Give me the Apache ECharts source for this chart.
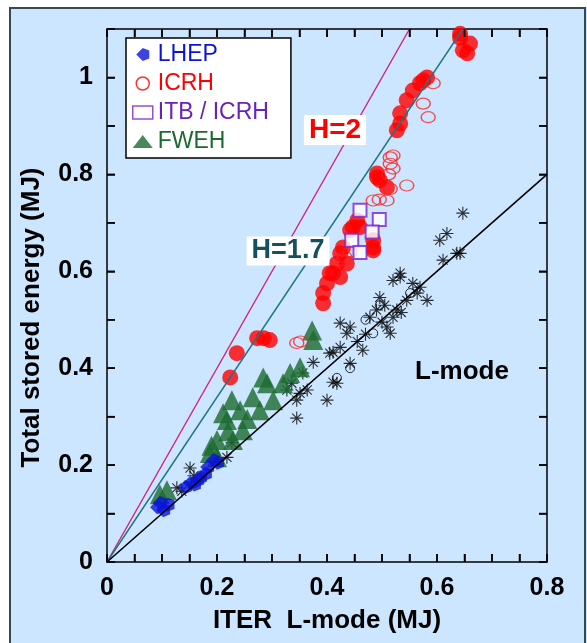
<!DOCTYPE html>
<html>
<head>
<meta charset="utf-8">
<script src="https://cdn.jsdelivr.net/npm/echarts@6/dist/echarts.min.js"></script>
<style>
  html, body { margin: 0; padding: 0; background: #fff; }
  #main { width: 587px; height: 643px; }
</style>
</head>
<body>
<div id="main"></div>
<script>
// values: [ITER L-mode (MJ), total stored energy (MJ)]
var lhep = [[0.091,0.113],[0.096,0.122],[0.102,0.107],[0.110,0.118],[0.142,0.155],[0.151,0.163],
  [0.158,0.160],[0.164,0.169],[0.169,0.175],[0.178,0.182],[0.182,0.196],[0.193,0.210],[0.200,0.205]];

var icrhFilled = [[0.236,0.431],[0.224,0.381],[0.273,0.462],[0.285,0.462],[0.296,0.458],[0.393,0.534],
  [0.400,0.575],[0.393,0.555],[0.405,0.596],[0.424,0.588],[0.411,0.596],[0.418,0.616],[0.424,0.637],
  [0.429,0.649],[0.436,0.616],[0.442,0.685],[0.455,0.705],[0.447,0.691],[0.460,0.691],[0.484,0.664],
  [0.484,0.643],[0.484,0.649],[0.491,0.794],[0.496,0.788],[0.491,0.802],[0.509,0.773],[0.527,0.891],
  [0.533,0.905],[0.533,0.926],[0.545,0.953],[0.556,0.973],[0.569,0.988],[0.582,1.000],[0.575,0.994],
  [0.642,1.090],[0.647,1.056],[0.655,1.050],[0.660,1.070],[0.642,1.082]];

var icrhOpen = [[0.345,0.452],[0.352,0.455],[0.429,0.623],[0.432,0.630],[0.442,0.640],[0.484,0.746],
  [0.495,0.748],[0.509,0.746],[0.515,0.770],[0.515,0.822],[0.520,0.839],[0.512,0.800],[0.545,0.777],
  [0.515,0.835],[0.520,0.812],[0.584,0.918],[0.575,0.946],[0.593,0.988]];

var itbIcrh = [[0.460,0.726],[0.495,0.707],[0.482,0.681],[0.445,0.664],[0.460,0.639]];

var fweh = [[0.109,0.148],[0.096,0.140],[0.187,0.225],[0.200,0.216],[0.200,0.252],[0.229,0.252],
  [0.218,0.293],[0.211,0.307],[0.227,0.334],[0.242,0.313],[0.247,0.272],[0.220,0.270],[0.265,0.340],
  [0.278,0.313],[0.291,0.369],[0.284,0.381],[0.302,0.334],[0.320,0.369],[0.333,0.390],[0.351,0.402],
  [0.373,0.478],[0.375,0.458],[0.255,0.295],[0.190,0.240]];

var lmodeCross = [[0.127,0.153],[0.136,0.146],[0.151,0.194],[0.158,0.178],[0.218,0.216],[0.227,0.246],
  [0.327,0.355],[0.351,0.348],[0.345,0.334],[0.364,0.355],[0.336,0.369],[0.345,0.297],[0.375,0.412],
  [0.411,0.371],[0.400,0.334],[0.356,0.390],[0.424,0.493],[0.436,0.472],[0.411,0.433],[0.424,0.443],
  [0.405,0.431],[0.442,0.410],[0.418,0.369],[0.442,0.485],[0.465,0.437],[0.478,0.505],[0.496,0.546],
  [0.515,0.472],[0.527,0.520],[0.509,0.485],[0.500,0.495],[0.520,0.505],[0.533,0.588],[0.556,0.575],
  [0.564,0.555],[0.582,0.540],[0.569,0.567],[0.520,0.581],[0.533,0.596],[0.611,0.623],[0.642,0.637],
  [0.605,0.664],[0.618,0.678],[0.647,0.720],[0.636,0.637],[0.490,0.520],[0.505,0.530],[0.455,0.455],
  [0.470,0.470],[0.535,0.515],[0.545,0.540]];

var lmodeCircle = [[0.418,0.380],[0.442,0.400],[0.496,0.530],[0.484,0.472],[0.551,0.555],[0.470,0.500]];

// scaling lines W = H * W_L
var lineH2 = [[0, 0], [0.55, 1.1]];
var lineH17 = [[0, 0], [0.647, 1.1]];
var lineL = [[0, 0], [0.8, 0.8]];

// tick positions on the frame
var xTickValues = [0, 0.05, 0.1, 0.15, 0.2, 0.25, 0.3, 0.35, 0.4, 0.45, 0.5, 0.55, 0.6, 0.65, 0.7, 0.75, 0.8];
var yTickValues = [0, 0.1, 0.2, 0.3, 0.4, 0.5, 0.6, 0.7, 0.8, 0.9, 1.0, 1.1];

var xTicks = { min: 0, max: 0.8, step: 0.05 };
var yTicks = { min: 0, max: 1.1, step: 0.1 };

var crossPath = 'path://M5 0L5 10M0 5L10 5M1.5 1.5L8.5 8.5M8.5 1.5L1.5 8.5';
var lhepPath = 'path://M0 5L5 0L10 2L10 8L5 10Z';

var chart = echarts.init(document.getElementById('main'));

var lbl = { fontFamily: 'Liberation Sans', fontWeight: 'bold', fontSize: 25, color: '#000' };

function axisBase(pos, t) {
  return {
    type: 'value', position: pos, min: t.min, max: t.max, interval: t.step,
    axisLine: { show: true, onZero: false, lineStyle: { color: '#000', width: 1.5 } },
    axisTick: { show: true, inside: true, length: 8, lineStyle: { color: '#000', width: 1.5 } },
    splitLine: { show: false },
    axisLabel: { show: false }
  };
}

var xb = axisBase('bottom', xTicks);
xb.axisLabel = Object.assign({ show: true, margin: 14, formatter: function (v) {
  return Math.round(v * 100) % 20 === 0 ? String(Math.round(v * 10) / 10) : '';
} }, lbl);
xb.name = 'ITER  L-mode (MJ)';
xb.nameLocation = 'middle';
xb.nameGap = 46;
xb.nameTextStyle = { fontFamily: 'Liberation Sans', fontWeight: 'bold', fontSize: 26, color: '#000' };

var yl = axisBase('left', yTicks);
yl.axisLabel = Object.assign({ show: true, margin: 14, formatter: function (v) {
  return Math.round(v * 10) % 2 === 0 ? String(Math.round(v * 10) / 10) : '';
} }, lbl);
yl.name = 'Total stored energy (MJ)';
yl.nameLocation = 'middle';
yl.nameGap = 62;
yl.nameTextStyle = { padding: [0, 44, 0, 0], fontFamily: 'Liberation Sans', fontWeight: 'bold', fontSize: 26, color: '#000' };

// ticks on all four sides, placed through the axes' own scales
function renderTicks(params, api) {
  var len = 8;
  var kids = [];
  var st = { stroke: '#000', lineWidth: 1.5 };
  xTickValues.forEach(function (v) {
    var b = api.coord([v, yTicks.min]);
    var t = api.coord([v, yTicks.max]);
    kids.push({ type: 'line', shape: { x1: b[0], y1: b[1], x2: b[0], y2: b[1] - len }, style: st });
    kids.push({ type: 'line', shape: { x1: t[0], y1: t[1], x2: t[0], y2: t[1] + len }, style: st });
  });
  yTickValues.forEach(function (v) {
    var l = api.coord([xTicks.min, v]);
    var r = api.coord([xTicks.max, v]);
    kids.push({ type: 'line', shape: { x1: l[0], y1: l[1], x2: l[0] + len, y2: l[1] }, style: st });
    kids.push({ type: 'line', shape: { x1: r[0], y1: r[1], x2: r[0] - len, y2: r[1] }, style: st });
  });
  return { type: 'group', children: kids };
}

chart.setOption({
  backgroundColor: '#cce6ff',
  animation: false,
  grid: { left: 107, right: 40, top: 29, bottom: 81 },
  graphic: [
    { type: 'rect', shape: { x: 0, y: 0, width: 9, height: 643 }, style: { fill: '#fff' } },
    { type: 'rect', shape: { x: 0, y: 0, width: 587, height: 7 }, style: { fill: '#fff' } },
    { type: 'polyline', shape: { points: [[10, 643], [10, 8], [585, 8], [585, 643]] },
      style: { fill: null, stroke: '#3a4650', lineWidth: 2 } },
    { type: 'text', x: 335, y: 130, z: 10,
      style: { text: 'H=2', fill: '#ff0000', font: 'bold 28px "Liberation Sans"', align: 'center',
        verticalAlign: 'middle', backgroundColor: '#fff', padding: [2, 5, 0, 5] } },
    { type: 'text', x: 288, y: 251, z: 10,
      style: { text: 'H=1.7', fill: '#14505e', font: 'bold 27px "Liberation Sans"', align: 'center',
        verticalAlign: 'middle', backgroundColor: '#fff', padding: [2, 5, 0, 5] } },
    { type: 'text', x: 462, y: 372, z: 10,
      style: { text: 'L-mode', fill: '#000', font: 'bold 26px "Liberation Sans"', align: 'center',
        verticalAlign: 'middle' } }
  ],
  legend: {
    orient: 'vertical', left: 126, top: 38,
    backgroundColor: '#fff', borderColor: '#000', borderWidth: 1.5,
    padding: [5, 22, 5, 6], itemGap: 6, itemWidth: 20, itemHeight: 13,
    textStyle: { fontFamily: 'Liberation Sans', fontSize: 23 },
    data: [
      { name: 'LHEP', icon: lhepPath, itemStyle: { color: '#0a14d8' }, textStyle: { color: '#0a14d8' } },
      { name: 'ICRH', icon: 'circle', itemStyle: { color: 'rgba(0,0,0,0)', borderColor: '#ff0000', borderWidth: 1.5 },
        textStyle: { color: '#ff0000' } },
      { name: 'ITB / ICRH', icon: 'rect', itemStyle: { color: '#fff', borderColor: '#7a22cc', borderWidth: 1.5 },
        textStyle: { color: '#6a22b8' } },
      { name: 'FWEH', icon: 'triangle', itemStyle: { color: '#1b6a30' }, textStyle: { color: '#1b6a30' } }
    ]
  },
  xAxis: [xb, axisBase('top', xTicks)],
  yAxis: [yl, axisBase('right', yTicks)],
  series: [
    { name: 'ticks', type: 'custom', data: [[0, 0]], renderItem: renderTicks, silent: true, clip: false, z: 6 },
    { name: 'L-mode data', type: 'scatter', data: lmodeCross, symbol: crossPath, symbolSize: 13,
      itemStyle: { color: 'rgba(0,0,0,0)', borderColor: '#000', borderWidth: 1.1 } },
    { name: 'L-mode circles', type: 'scatter', data: lmodeCircle, symbol: 'circle', symbolSize: 9,
      itemStyle: { color: 'rgba(0,0,0,0)', borderColor: '#000', borderWidth: 1 } },
    { name: 'FWEH', type: 'scatter', data: fweh, symbol: 'triangle', symbolSize: 20,
      itemStyle: { color: '#1b6a30' } },
    { name: 'LHEP', type: 'scatter', data: lhep, symbol: lhepPath, symbolSize: 14,
      itemStyle: { color: '#0a14d8' } },
    { name: 'ICRH filled', type: 'scatter', data: icrhFilled, symbol: 'circle', symbolSize: 16,
      itemStyle: { color: '#ff0000' } },
    { name: 'ICRH', type: 'scatter', data: icrhOpen, symbol: 'circle', symbolSize: [14, 11],
      itemStyle: { color: 'rgba(0,0,0,0)', borderColor: '#ff2020', borderWidth: 1.3 } },
    { name: 'ITB / ICRH', type: 'scatter', data: itbIcrh, symbol: 'rect', symbolSize: 13,
      itemStyle: { color: '#fff', borderColor: '#7a22cc', borderWidth: 2 } },
    { name: 'H=2', type: 'line', data: lineH2, showSymbol: false, z: 5, silent: true,
      lineStyle: { color: '#d4207a', width: 1.4 } },
    { name: 'H=1.7', type: 'line', data: lineH17, showSymbol: false, z: 5, silent: true,
      lineStyle: { color: '#1f7385', width: 1.4 } },
    { name: 'L-mode', type: 'line', data: lineL, showSymbol: false, z: 5, silent: true,
      lineStyle: { color: '#000', width: 1.6 } }
  ]
});
</script>
</body>
</html>
